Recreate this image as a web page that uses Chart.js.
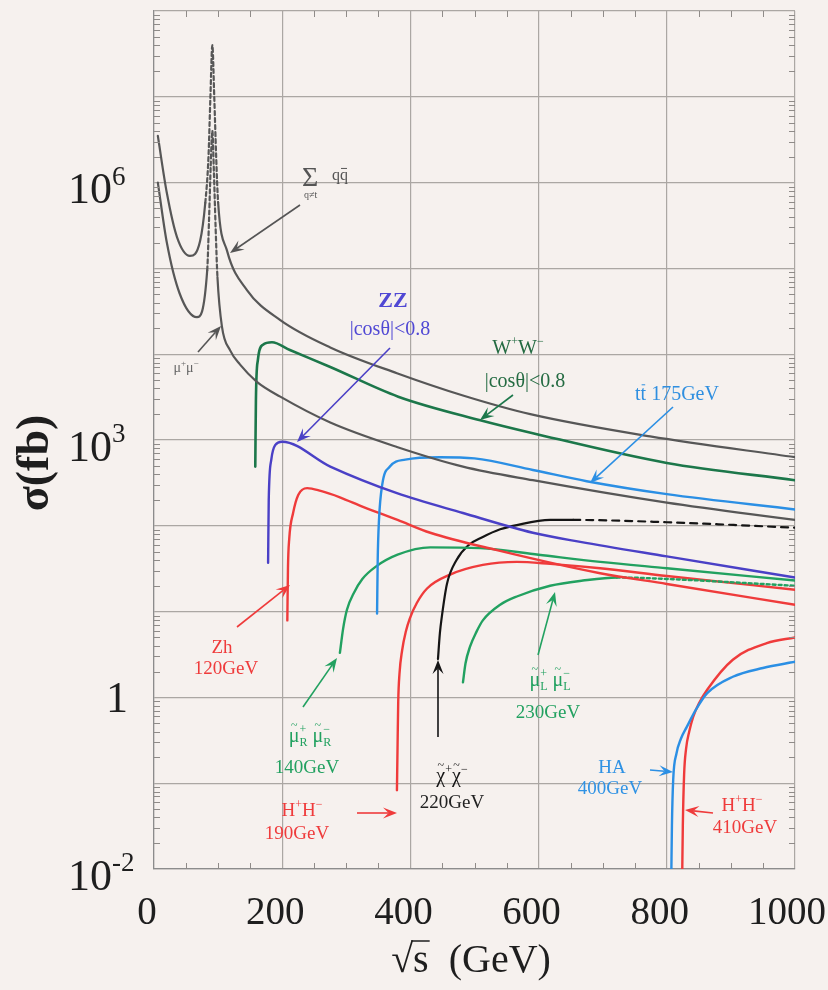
<!DOCTYPE html>
<html>
<head>
<meta charset="utf-8">
<script src="https://cdn.jsdelivr.net/npm/chart.js@4.4.1/dist/chart.umd.min.js"></script>
<style>
  html, body { margin: 0; padding: 0; background: #f6f1ee; }
  canvas { display: block; }
</style>
</head>
<body>
<canvas id="xsec" width="828" height="990"></canvas>
<script>
// cross sections (fb) against sqrt(s) (GeV)
const qqE = [6, 20, 36, 56, 72, 80, 85, 88, 91, 94, 97, 100, 114, 145, 197, 275, 379, 482, 587, 774, 1000];
const qqSigma = [3.5e6, 7.6e5, 2.3e5, 1.4e5, 2.1e5, 5.8e5, 2.0e6, 1.0e7, 4.0e7, 1.0e7, 2.0e6, 5.9e5, 1.6e5, 5.6e4, 2.5e4, 1.2e4, 6.0e3, 3.3e3, 2.0e3, 1.1e3, 630];

const mumuE = [6, 20, 40, 67, 83, 86, 88.5, 91, 93.5, 96, 99, 106, 119, 134, 160, 197, 275, 379, 482, 591, 800, 1000];
const mumuSigma = [1.0e6, 2.0e5, 5.1e4, 2.7e4, 9.5e4, 4.0e5, 1.6e6, 4.0e6, 1.3e6, 3.2e5, 7.9e4, 2.1e4, 1.1e4, 7.6e3, 4.8e3, 3.2e3, 1.6e3, 830, 490, 340, 186, 117];

const wwE = [158, 159, 162, 170, 184, 212, 275, 381, 509, 591, 800, 1000];
const wwSigma = [490, 2950, 8500, 12900, 13800, 11200, 7100, 3200, 1700, 1200, 540, 340];

const zzE = [178, 179, 183, 189, 200, 275, 379, 482, 591, 665, 800, 1000];
const zzSigma = [37, 200, 590, 870, 955, 490, 240, 141, 83, 65, 44, 25];

const ttE = [348, 349, 351, 356, 368, 392, 446, 500, 591, 675, 800, 1000];
const ttSigma = [9.5, 40, 117, 300, 490, 590, 630, 610, 447, 331, 234, 155];

const zhE = [208, 209, 211, 217, 225, 239, 260, 290, 326, 380, 431, 535, 696, 800, 1000];
const zhSigma = [7.9, 32, 71, 141, 229, 275, 255, 215, 166, 117, 83, 52, 28, 21, 12];

const smuRE = [290, 295, 301, 312, 325, 345, 380, 431, 509, 600, 696, 800, 1000];
const smuRSigma = [3.3, 6.3, 10.5, 16.6, 24, 33, 46, 56, 55, 46, 38, 32, 23];

const smuLE = [482, 486, 493, 503, 513, 540, 566, 618, 669, 722, 800, 1000];
const smuLSigma = [1.5, 2.5, 3.9, 5.8, 7.9, 12, 15, 20, 23, 25, 24, 20];

const chiE = [443, 446, 449, 457, 472, 490, 513, 540, 566, 618, 654, 800, 1000];
const chiSigma = [2.8, 5.6, 8.7, 21, 40, 59, 74, 91, 102, 117, 117, 110, 95];

const hpm190E = [379, 380, 381, 383, 387, 393, 399, 410, 426, 462, 513, 566, 618, 696, 800, 1000];
const hpm190Sigma = [0.083, 0.28, 0.89, 1.9, 3.5, 5.9, 8.3, 12.6, 18.6, 27, 35, 38, 36, 32, 26, 18];

const haE = [807, 808, 810, 815, 822, 831, 845, 863, 903, 950, 1000];
const haSigma = [0.008, 0.032, 0.11, 0.22, 0.33, 0.45, 0.71, 1.12, 1.74, 2.2, 2.6];

const hpm410E = [824, 825, 827, 830, 835, 841, 850, 863, 903, 956, 1000];
const hpm410Sigma = [0.008, 0.032, 0.126, 0.25, 0.40, 0.59, 0.85, 1.23, 2.75, 4.3, 5.0];

// axis ticks
const xTickValues = [0, 200, 400, 600, 800, 1000];
const yGridDecades = [1e-2, 1e-1, 1, 1e1, 1e2, 1e3, 1e4, 1e5, 1e6, 1e7, 1e8];
const yLabelValues = [1e-2, 1, 1e3, 1e6];
const yLabelExps = ['-2', '', '3', '6'];

const SERIF = '"Liberation Serif", "DejaVu Serif", serif';
const GRAY = '#575757', WWGREEN = '#1c774a', ZZBLUE = '#4a40c6', TTBLUE = '#2b8fe4',
      RED = '#ef3b3b', SMUGREEN = '#22a160', BLACK = '#151515';

function curve(E, S, color, width, dash) {
  const ds = {
    data: E.map((e, i) => ({ x: e, y: S[i] })),
    borderColor: color,
    borderWidth: width,
    fill: false,
  };
  if (dash) {
    ds.segment = {
      borderDash: c => (c.p0.parsed.x >= dash.from - 0.01 && c.p1.parsed.x <= dash.to + 0.01) ? dash.pattern : undefined,
    };
  }
  return ds;
}

// text with optional super/subscripts, tilde or bar over a glyph
function rich(ctx, parts, x, cy, size, color, align = 'center', weight = '') {
  const small = Math.round(size * 0.62);
  const font = s => `${weight} ${s}px ${SERIF}`;
  let total = 0;
  const widths = parts.map(p => {
    ctx.font = font(size);
    const w = ctx.measureText(p.t).width;
    ctx.font = font(small);
    const e = Math.max(p.sup ? ctx.measureText(p.sup).width : 0, p.sub ? ctx.measureText(p.sub).width : 0);
    total += w + e;
    return [w, e];
  });
  let cx = align === 'center' ? x - total / 2 : align === 'right' ? x - total : x;
  const base = cy + size * 0.33;
  ctx.fillStyle = color;
  ctx.strokeStyle = color;
  ctx.textBaseline = 'alphabetic';
  ctx.textAlign = 'left';
  parts.forEach((p, i) => {
    const [w, e] = widths[i];
    ctx.font = font(size);
    ctx.fillText(p.t, cx, base);
    if (p.tilde) {
      ctx.font = font(small);
      ctx.textAlign = 'center';
      ctx.fillText('~', cx + w / 2, base - size * 0.62);
      ctx.textAlign = 'left';
    }
    if (p.bar) {
      ctx.lineWidth = 1;
      ctx.beginPath();
      ctx.moveTo(cx + 1, base - size * 0.74);
      ctx.lineTo(cx + w - 1, base - size * 0.74);
      ctx.stroke();
    }
    ctx.font = font(small);
    if (p.sup) ctx.fillText(p.sup, cx + w, base - size * 0.42);
    if (p.sub) ctx.fillText(p.sub, cx + w, base + size * 0.22);
    cx += w + e;
  });
}

function arrow(ctx, x0, y0, x1, y1, color) {
  const a = Math.atan2(y1 - y0, x1 - x0);
  const L = 14, H = 5.5, c = Math.cos(a), s = Math.sin(a);
  ctx.strokeStyle = color;
  ctx.fillStyle = color;
  ctx.lineWidth = 1.6;
  ctx.beginPath();
  ctx.moveTo(x0, y0);
  ctx.lineTo(x1 - c * L * 0.6, y1 - s * L * 0.6);
  ctx.stroke();
  ctx.beginPath();
  ctx.moveTo(x1, y1);
  ctx.lineTo(x1 - L * c + H * s, y1 - L * s - H * c);
  ctx.lineTo(x1 - L * 0.6 * c, y1 - L * 0.6 * s);
  ctx.lineTo(x1 - L * c - H * s, y1 - L * s + H * c);
  ctx.closePath();
  ctx.fill();
}

const decorations = {
  id: 'decorations',
  beforeDraw(chart) {
    const ctx = chart.ctx;
    ctx.save();
    ctx.fillStyle = '#f6f1ee';
    ctx.fillRect(0, 0, chart.width, chart.height);
    ctx.restore();
  },
  afterDraw(chart) {
    const ctx = chart.ctx;
    const { left, right, top, bottom } = chart.chartArea;
    const xs = chart.scales.x, ys = chart.scales.y;
    ctx.save();

    // minor ticks
    ctx.strokeStyle = '#8f8b88';
    ctx.lineWidth = 1;
    ctx.beginPath();
    for (let n = -2; n < 8; n++) {
      for (let k = 2; k < 10; k++) {
        const py = Math.round(ys.getPixelForValue(k * Math.pow(10, n))) + 0.5;
        ctx.moveTo(left, py); ctx.lineTo(left + 6, py);
        ctx.moveTo(right, py); ctx.lineTo(right - 6, py);
      }
    }
    for (let v = 50; v < 1000; v += 50) {
      if (v % 200 === 0) continue;
      const px = Math.round(xs.getPixelForValue(v)) + 0.5;
      ctx.moveTo(px, bottom); ctx.lineTo(px, bottom - 6);
      ctx.moveTo(px, top); ctx.lineTo(px, top + 6);
    }
    ctx.stroke();

    // x tick labels (sit a little left of their grid lines, as in the scan)
    ctx.fillStyle = '#1e1e1e';
    ctx.font = `39px ${SERIF}`;
    ctx.textAlign = 'center';
    ctx.textBaseline = 'alphabetic';
    xTickValues.forEach(v => {
      const label = String(v);
      const w = ctx.measureText(label).width;
      const cx = Math.min(xs.getPixelForValue(v) - 7, 826 - w / 2);
      ctx.fillText(label, cx, 924);
    });

    // y tick labels with exponents
    yLabelValues.forEach((v, i) => {
      const py = ys.getPixelForValue(v);
      if (yLabelExps[i] === '') rich(ctx, [{ t: '1' }], 128, py, 44, '#1e1e1e', 'right');
      else rich(ctx, [{ t: '10', sup: yLabelExps[i] }], 68, py + 6, 44, '#1e1e1e', 'left');
    });

    // axis titles
    ctx.fillStyle = '#1e1e1e';
    ctx.textAlign = 'center';
    ctx.textBaseline = 'middle';
    ctx.save();
    ctx.translate(36, 463);
    ctx.rotate(-Math.PI / 2);
    ctx.font = `bold 46px ${SERIF}`;
    ctx.fillText('σ(fb)', 0, 0);
    ctx.restore();
    ctx.font = `40px ${SERIF}`;
    ctx.textAlign = 'left';
    ctx.textBaseline = 'alphabetic';
    const t1 = '√', t2 = 's  (GeV)';
    const w1 = ctx.measureText(t1).width, w2 = ctx.measureText(t2).width;
    const tx = 471 - (w1 + w2) / 2;
    ctx.fillText(t1, tx, 972);
    ctx.fillText(t2, tx + w1, 972);
    const ws = ctx.measureText('s').width;
    ctx.strokeStyle = '#1e1e1e';
    ctx.lineWidth = 1.5;
    ctx.beginPath();
    ctx.moveTo(tx + w1 - 2, 941);
    ctx.lineTo(tx + w1 + ws + 1, 941);
    ctx.stroke();

    // annotations
    ctx.font = `28px ${SERIF}`;
    ctx.fillStyle = '#555';
    ctx.fillText('Σ', 302, 186);
    rich(ctx, [{ t: 'q' }, { t: 'q', bar: 1 }], 340, 175, 16, '#555');
    ctx.font = `10px ${SERIF}`;
    ctx.fillStyle = '#555';
    ctx.fillText('q≠t', 304, 198);
    arrow(ctx, 300, 205, 230, 253, '#555');

    rich(ctx, [{ t: 'μ', sup: '+' }, { t: 'μ', sup: '−' }], 186, 367, 14, '#666');
    arrow(ctx, 198, 352, 221, 326, '#555');

    rich(ctx, [{ t: 'ZZ' }], 393, 300, 22, '#5048d4', 'center', 'bold');
    rich(ctx, [{ t: '|cosθ|<0.8' }], 390, 328, 20, '#5048d4');
    arrow(ctx, 390, 348, 297, 442, ZZBLUE);

    rich(ctx, [{ t: 'W', sup: '+' }, { t: 'W', sup: '−' }], 518, 347, 20, '#246b42');
    rich(ctx, [{ t: '|cosθ|<0.8' }], 525, 380, 20, '#246b42');
    arrow(ctx, 513, 395, 480, 420, WWGREEN);

    rich(ctx, [{ t: 't' }, { t: 't', bar: 1 }, { t: ' 175GeV' }], 677, 393, 20, '#2f8fe0');
    arrow(ctx, 673, 407, 590, 483, TTBLUE);

    rich(ctx, [{ t: 'Zh' }], 222, 647, 19, RED);
    rich(ctx, [{ t: '120GeV' }], 226, 668, 19, RED);
    arrow(ctx, 237, 627, 290, 585, RED);

    rich(ctx, [{ t: 'μ', tilde: 1, sup: '+', sub: 'R' }, { t: ' ' }, { t: 'μ', tilde: 1, sup: '−', sub: 'R' }], 310, 735, 20, SMUGREEN);
    rich(ctx, [{ t: '140GeV' }], 307, 767, 19, SMUGREEN);
    arrow(ctx, 303, 707, 337, 658, SMUGREEN);

    rich(ctx, [{ t: 'H', sup: '+' }, { t: 'H', sup: '−' }], 302, 810, 19, RED);
    rich(ctx, [{ t: '190GeV' }], 297, 833, 19, RED);
    arrow(ctx, 357, 813, 397, 813, RED);

    rich(ctx, [{ t: 'χ', tilde: 1, sup: '+' }, { t: 'χ', tilde: 1, sup: '−' }], 452, 775, 20, BLACK);
    rich(ctx, [{ t: '220GeV' }], 452, 802, 19, '#222');
    arrow(ctx, 438, 737, 438, 660, BLACK);

    rich(ctx, [{ t: 'μ', tilde: 1, sup: '+', sub: 'L' }, { t: ' ' }, { t: 'μ', tilde: 1, sup: '−', sub: 'L' }], 550, 679, 20, SMUGREEN);
    rich(ctx, [{ t: '230GeV' }], 548, 712, 19, SMUGREEN);
    arrow(ctx, 538, 655, 555, 592, SMUGREEN);

    rich(ctx, [{ t: 'HA' }], 612, 767, 19, '#2f92e4');
    rich(ctx, [{ t: '400GeV' }], 610, 788, 19, '#2f92e4');
    arrow(ctx, 650, 770, 673, 772, TTBLUE);

    rich(ctx, [{ t: 'H', sup: '+' }, { t: 'H', sup: '−' }], 742, 805, 19, RED);
    rich(ctx, [{ t: '410GeV' }], 745, 827, 19, RED);
    arrow(ctx, 713, 813, 685, 810, RED);

    ctx.restore();
  },
};

const gridStyle = { color: '#aba7a3', lineWidth: 1.2, drawTicks: false, tickLength: 0 };

new Chart(document.getElementById('xsec'), {
  type: 'line',
  data: {
    datasets: [
      curve(qqE, qqSigma, GRAY, 2.2, { from: 80, to: 100, pattern: [4, 3] }),
      curve(mumuE, mumuSigma, GRAY, 2.2, { from: 83, to: 99, pattern: [4, 3] }),
      curve(wwE, wwSigma, WWGREEN, 2.6),
      curve(zzE, zzSigma, ZZBLUE, 2.4),
      curve(ttE, ttSigma, TTBLUE, 2.4),
      curve(zhE, zhSigma, RED, 2.4),
      curve(smuRE, smuRSigma, SMUGREEN, 2.4),
      curve(smuLE, smuLSigma, SMUGREEN, 2.4, { from: 700, to: 1000, pattern: [3, 3] }),
      curve(chiE, chiSigma, BLACK, 2.2, { from: 640, to: 1000, pattern: [7, 6] }),
      curve(hpm190E, hpm190Sigma, RED, 2.4),
      curve(haE, haSigma, TTBLUE, 2.4),
      curve(hpm410E, hpm410Sigma, RED, 2.4),
    ],
  },
  options: {
    responsive: false,
    animation: false,
    events: [],
    layout: { padding: { top: 11, right: 33, left: 0, bottom: 0 } },
    plugins: { legend: { display: false }, tooltip: { enabled: false } },
    elements: {
      point: { radius: 0 },
      line: { cubicInterpolationMode: 'monotone', borderCapStyle: 'round', borderJoinStyle: 'round' },
    },
    scales: {
      x: {
        type: 'linear',
        min: 0,
        max: 1000,
        ticks: { stepSize: 200, display: false },
        grid: gridStyle,
        border: { color: '#8c8c8c', width: 1.2 },
        afterFit(s) { s.height = 121; },
      },
      y: {
        type: 'logarithmic',
        min: 1e-2,
        max: 1e8,
        ticks: { display: false },
        grid: gridStyle,
        border: { color: '#8c8c8c', width: 1.2 },
        afterBuildTicks(s) { s.ticks = yGridDecades.map(v => ({ value: v })); },
        afterFit(s) { s.width = 154; },
      },
    },
  },
  plugins: [decorations],
});
</script>
</body>
</html>
